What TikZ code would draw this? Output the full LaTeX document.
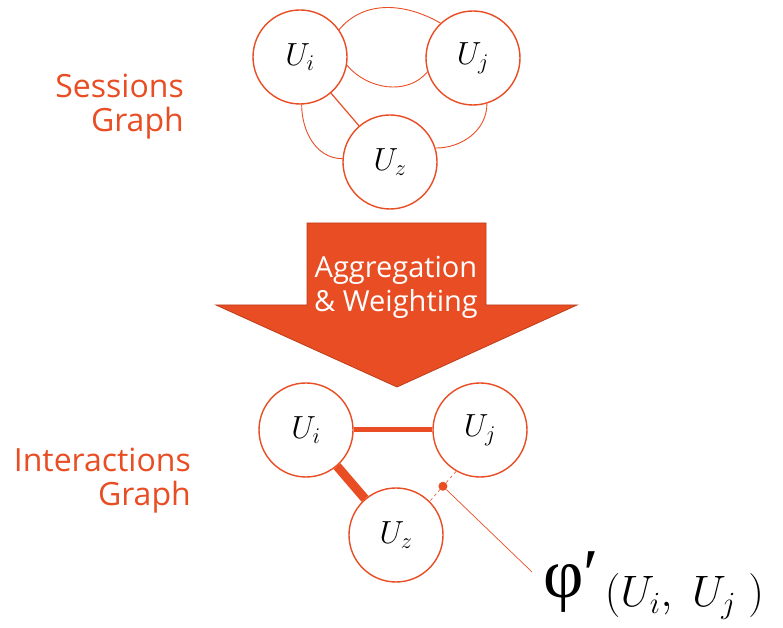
\RequirePackage{fix-cm}
\documentclass[tikz,border=0pt]{standalone}
\usepackage{fontspec}
\setmainfont{Open Sans}
\newfontfamily\phifont{Liberation Serif}
\definecolor{sessorange}{RGB}{232,77,35}
\definecolor{sessdark}{RGB}{190,62,28}

\begin{document}
\begin{tikzpicture}[x=1pt, y=1pt,
 user/.style={circle, draw=sessorange, line width=1.4pt, fill=white, minimum size=94pt, inner sep=0pt, font=\fontsize{32}{36}\selectfont},
 graphlabel/.style={align=right, anchor=east, inner sep=0pt, text=sessorange, font=\fontsize{32}{34}\selectfont},
 link/.style={draw=sessorange, line width=0.9pt},
 dot/.style={circle, fill=sessorange, minimum size=9pt, inner sep=0pt}]
 \useasboundingbox (0,0) rectangle (783,628);
 % sessions graph
 \node[graphlabel] (sesslabel) at (184,521){Sessions\\Graph};
 \node[user] (si) at (300,571){$U_i$};
 \node[user] (sj) at (473,570){$U_j$};
 \node[user] (sz) at (390,466){$U_z$};
 \draw[link] (si.35) to[out=50, in=150] (sj.133);
 \draw[link] (si.-10) to[out=-50, in=-130] (sj.197);
 \draw[link, line width=1.2pt] (si) -- (sz);
 \draw[link] (si.-88) to[out=-90, in=180] (sz.176);
 \draw[link] (sj.-73) to[out=-90, in=0] (sz.17);
 % arrow
 \draw[fill=sessorange, draw=sessdark, line width=0.8pt] (307,405) -- (486,405) -- (486,323) -- (577,323) -- (397,241) -- (216,323) -- (307,323) -- cycle;
 \node[text=white, align=center, font=\fontsize{29}{34}\selectfont] (agg) at (396,341){Aggregation\\\& Weighting};
 % interactions graph
 \node[graphlabel] (intlabel) at (191,147){Interactions\\Graph};
 \node[user] (bi) at (306,198){$U_i$};
 \node[user] (bj) at (480,198){$U_j$};
 \node[user] (bz) at (396,93){$U_z$};
 \draw[link, line width=5pt] (bi) -- (bj);
 \draw[link, line width=9pt] (bi) -- (bz);
 \draw[link, dashed, line width=0.6pt] (bj.240) -- node[dot] (w){} (bz.45);
 \coordinate (lead) at (532,56);
 \draw[link, line width=0.7pt] (w) -- (lead);
 \node[anchor=base west, inner sep=0pt] (phi) at (543,21){\raisebox{9pt}{\phifont\fontsize{70}{70}\selectfont φ′}\hspace{6pt}{\fontsize{44}{48}\selectfont$(U_i,\;U_j\;)$}};
\end{tikzpicture}
\end{document}
